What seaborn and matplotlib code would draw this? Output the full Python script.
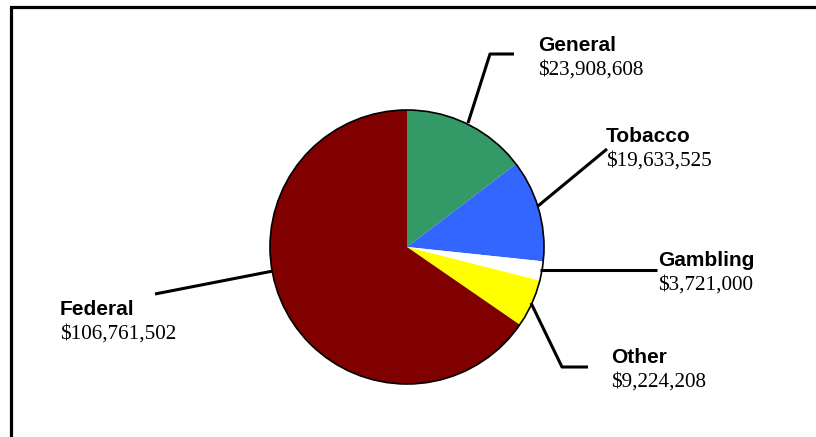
import numpy as np
import matplotlib
matplotlib.use("Agg")
import matplotlib.pyplot as plt
import seaborn as sns
from matplotlib.patches import Circle

# revenue sources, clockwise from 12 o'clock
labels = ["General", "Tobacco", "Gambling", "Other", "Federal"]
values = [23908608, 19633525, 3721000, 9224208, 106761502]
colors = ["#339966", "#3366FF", "#FFFFFF", "#FFFF00", "#800000"]

sns.set_theme(style="white")
plt.rcParams["font.family"] = ["Liberation Sans", "DejaVu Sans"]

W, H = 816, 437
fig = plt.figure(figsize=(W / 100, H / 100), dpi=100)
ax = fig.add_axes([0, 0, 1, 1])

def Y(y):
    # picture rows -> axes y
    return H - y

cx, cy, r = 407, Y(247), 137
wedges, _ = ax.pie(values, colors=colors, startangle=90, counterclock=False,
                   center=(cx, cy), radius=r, frame=True,
                   wedgeprops=dict(linewidth=0))
ax.set_xlim(0, W)
ax.set_ylim(0, H)
ax.set_aspect("equal")
ax.axis("off")
ax.add_patch(Circle((cx, cy), r, fill=False, ec="black", lw=1.2, zorder=5))

# leader lines (elbow points in picture pixels)
leaders = {
    "General": [(468, 123), (490, 54), (514, 54)],
    "Tobacco": [(538, 206), (607, 149)],
    "Gambling": [(540, 270), (657, 270)],
    "Other": [(531, 303), (562, 367), (588, 367)],
    "Federal": [(273, 271), (155, 294)],
}
# text anchors: left x, baseline of name
text_pos = {
    "General": (538, 51),
    "Tobacco": (606, 142),
    "Gambling": (658, 266),
    "Other": (611, 363),
    "Federal": (60, 315),
}

for lab, val in zip(labels, values):
    pts = np.array(leaders[lab], dtype=float)
    ax.plot(pts[:, 0], H - pts[:, 1], color="black", lw=2.2,
            solid_capstyle="butt", zorder=6)
    tx, ty = text_pos[lab]
    ax.text(tx, Y(ty), lab, fontsize=15, fontweight="bold",
            color="black", va="baseline", ha="left")
    ax.text(tx, Y(ty + 24), f"${val:,}", fontsize=15.2,
            family=["Liberation Serif", "DejaVu Serif"],
            color="black", va="baseline", ha="left")

# outer frame (top and left edges visible)
ax.plot([10.5, 10.5, W + 5], [Y(H + 5), Y(6.5), Y(6.5)], color="black",
        lw=2.3, solid_joinstyle="miter", zorder=7)

fig.savefig("out.png", dpi=100)
